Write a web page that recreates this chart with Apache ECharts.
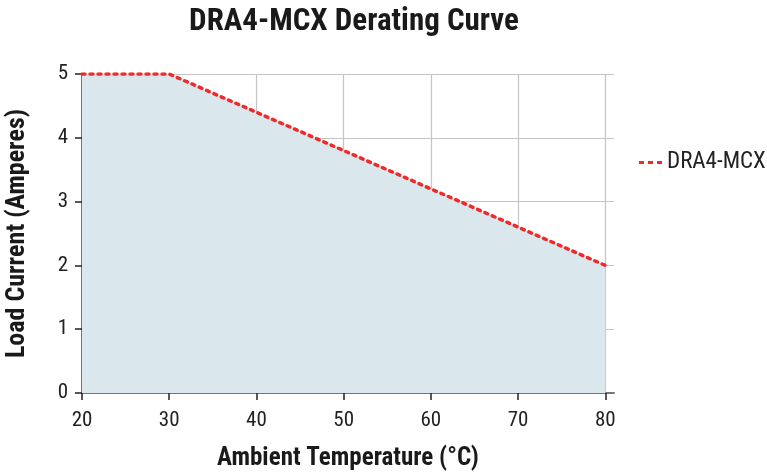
<!DOCTYPE html>
<html><head><meta charset="utf-8">
<script src="https://cdn.jsdelivr.net/npm/echarts@6/dist/echarts.min.js"></script>
<style>html,body{margin:0;padding:0;background:#fff}#c{width:767px;height:472px}</style>
</head><body><div id="c"></div>
<script>
const temps = [20, 30, 40, 50, 60, 70, 80];
const current = [5, 5, 4.4, 3.8, 3.2, 2.6, 2.0];
const xTicks = [20, 30, 40, 50, 60, 70, 80];
const yTicks = [0, 1, 2, 3, 4, 5];
const seriesName = 'DRA4-MCX';
const FONT = '"Liberation Sans Narrow", "Roboto Condensed", "Liberation Sans", sans-serif';

const chart = echarts.init(document.getElementById('c'), null, {renderer: 'canvas'});
chart.setOption({
  animation: false,
  title: {
    text: 'DRA4-MCX Derating Curve', left: 349, textAlign: 'center', top: 2,
    textStyle: {fontFamily: FONT, fontWeight: 'bold', fontSize: 31, color: '#1a1a1a'}
  },
  legend: {
    left: 634, top: 146, itemWidth: 23, itemHeight: 3, itemGap: 8,
    textStyle: {fontFamily: FONT, fontSize: 23, color: '#222'},
    data: [{name: seriesName, icon: 'path://M0,0H5V3H0Z M9,0H14V3H9Z M18,0H23V3H18Z'}]
  },
  grid: {left: 82, right: 153, top: 74, bottom: 79, containLabel: false, outerBoundsMode: 'none'},
  xAxis: {
    type: 'value', min: 20, max: 81,
    name: 'Ambient Temperature (°C)', nameLocation: 'middle', nameGap: 53,
    nameTextStyle: {fontFamily: FONT, fontWeight: 'bold', fontSize: 25, color: '#1a1a1a'},
    axisLine: {show: true, lineStyle: {color: '#777', width: 2}},
    axisTick: {show: true, length: 7, customValues: xTicks, lineStyle: {color: '#222', width: 1.5}},
    axisLabel: {customValues: xTicks, margin: 17, fontFamily: FONT, fontSize: 21, color: '#222'},
    splitLine: {show: true, lineStyle: {color: '#c4c4c4', width: 1.2}}
  },
  yAxis: {
    type: 'value', min: 0, max: 5, interval: 1,
    name: 'Load Current (Amperes)', nameLocation: 'middle', nameGap: 52,
    nameTextStyle: {fontFamily: FONT, fontWeight: 'bold', fontSize: 26, color: '#1a1a1a'},
    axisLine: {show: true, lineStyle: {color: '#777', width: 2}},
    axisTick: {show: true, length: 7, lineStyle: {color: '#222', width: 1.5}},
    axisLabel: {margin: 14, fontFamily: FONT, fontSize: 21, color: '#222'},
    splitLine: {show: true, lineStyle: {color: '#c4c4c4', width: 1.2}}
  },
  series: [{
    name: seriesName, type: 'line', symbol: 'none',
    data: temps.map((t, i) => [t, current[i]]),
    lineStyle: {color: '#ee2b2b', width: 3.5, type: [3, 5], cap: 'round'},
    itemStyle: {color: '#ee2b2b'},
    areaStyle: {color: '#dae8ee', opacity: 1},
    z: 3
  }]
});
</script></body></html>
